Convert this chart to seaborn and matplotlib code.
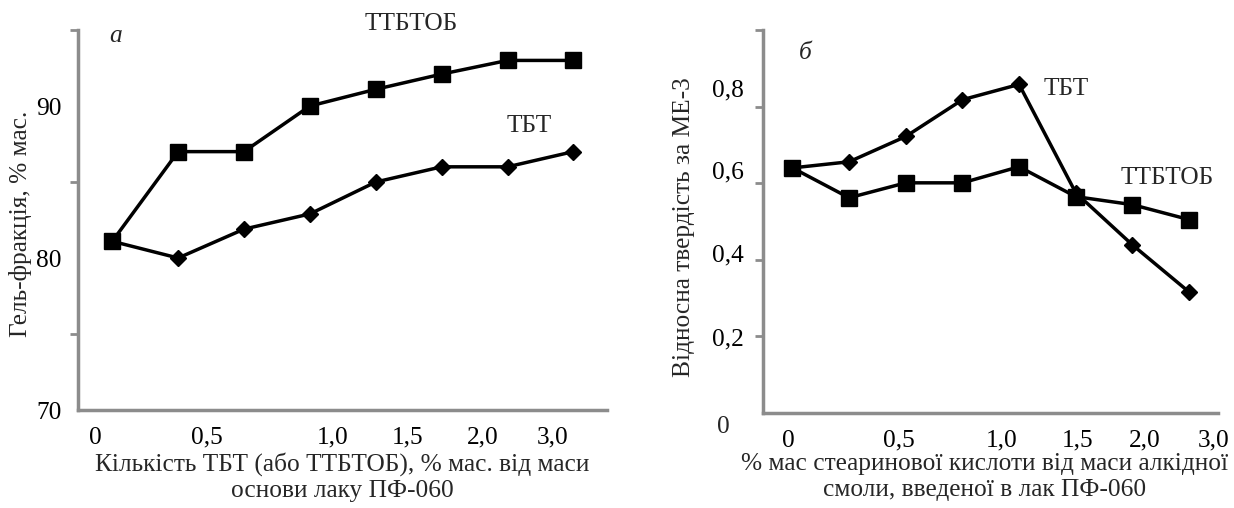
import numpy as np
import pandas as pd
import matplotlib
matplotlib.use("Agg")
import matplotlib.pyplot as plt
import seaborn as sns

# ---------------- data ----------------
# points are equally spaced along x (index 0..7), tick labels are placed as in the source figure
idx = [0, 1, 2, 3, 4, 5, 6, 7]

# panel a: gel fraction, % mass
gel_ttbtob = [81.1, 87.0, 87.0, 90.0, 91.1, 92.1, 93.0, 93.0]
gel_tbt = [81.1, 80.0, 81.9, 82.9, 85.0, 86.0, 86.0, 87.0]
a_xtick_pos = [-0.26, 1.44, 3.34, 4.48, 5.63, 6.69]
a_xtick_lab = ["0", "0,5", "1,0", "1,5", "2,0", "3,0"]

# panel b: relative hardness (ME-3)
hard_ttbtob = [0.64, 0.562, 0.601, 0.601, 0.643, 0.565, 0.544, 0.505]
hard_tbt = [0.64, 0.656, 0.722, 0.818, 0.858, 0.575, 0.439, 0.316]
b_xtick_pos = [-0.07, 1.87, 3.70, 5.04, 6.21, 7.43]
b_xtick_lab = ["0", "0,5", "1,0", "1,5", "2,0", "3,0"]
b_ytick_pos = [0.198, 0.418, 0.634, 0.85]
b_ytick_lab = ["0,2", "0,4", "0,6", "0,8"]

# ---------------- style ----------------
sns.set_theme(style="ticks")
plt.rcParams["font.family"] = ["Liberation Serif", "DejaVu Serif"]
plt.rcParams["font.size"] = 18

spine_col = "#8c8c8c"
fs = 18.3

fig = plt.figure(figsize=(12.34, 5.08), dpi=100)
ax1 = fig.add_axes([0.0632, 0.1929, 0.4287, 0.748])
ax2 = fig.add_axes([0.6183, 0.187, 0.3687, 0.7539])


def draw(ax, y_sq, y_di):
    sns.lineplot(x=idx, y=y_sq, ax=ax, color="black", linewidth=2.5, marker="s",
                 markersize=12, markeredgecolor="black", markeredgewidth=1)
    sns.lineplot(x=idx, y=y_di, ax=ax, color="black", linewidth=2.5, marker="D",
                 markersize=8, markeredgecolor="black", markeredgewidth=1)
    ax.set_xlim(-0.52, 7.51)
    sns.despine(ax=ax)
    for s in ["left", "bottom"]:
        ax.spines[s].set_color(spine_col)
        ax.spines[s].set_linewidth(2.5)
    ax.tick_params(axis="both", which="both", colors=spine_col, labelcolor="black",
                   labelsize=fs)
    ax.tick_params(axis="x", which="major", length=0, pad=12)
    ax.tick_params(axis="y", which="minor", length=6, width=2, direction="out")


# panel a
draw(ax1, gel_ttbtob, gel_tbt)
ax1.set_ylim(70, 95)
ax1.set_xticks(a_xtick_pos)
ax1.set_xticklabels(a_xtick_lab)
ax1.set_yticks([70, 80, 90])
ax1.set_yticks([75, 80, 85, 90, 95], minor=True)
ax1.tick_params(axis="y", which="major", length=0, pad=12)
ax1.set_ylabel("Гель-фракція, % мас.", fontsize=fs)
ax1.yaxis.set_label_coords(-0.086, 0.49)
ax1.set_xlabel("Кількість ТБТ (або ТТБТОБ), % мас. від маси\nоснови лаку ПФ-060",
               fontsize=fs, linespacing=1.2)
ax1.xaxis.set_label_coords(0.5, -0.112)
ax1.text(0.05, 94.6, "а", fontsize=fs, style="italic", ha="center", va="center")
ax1.text(4.54, 95.4, "ТТБТОБ", fontsize=fs, ha="center", va="center", clip_on=False)
ax1.text(6.33, 88.7, "ТБТ", fontsize=fs, ha="center", va="center")

# panel b
draw(ax2, hard_ttbtob, hard_tbt)
ax2.set_ylim(0, 1.0)
ax2.set_xticks(b_xtick_pos)
ax2.set_xticklabels(b_xtick_lab)
ax2.set_yticks(b_ytick_pos)
ax2.set_yticklabels(b_ytick_lab)
ax2.set_yticks([0.2, 0.4, 0.6, 0.8, 1.0], minor=True)
ax2.tick_params(axis="y", which="major", length=0, pad=14)
ax2.set_ylabel("Відносна твердість за МЕ-3", fontsize=fs)
ax2.yaxis.set_label_coords(-0.15, 0.486)
ax2.set_xlabel("% мас стеаринової кислоти від маси алкідної\nсмоли, введеної в лак ПФ-060",
               fontsize=fs, linespacing=1.2)
ax2.xaxis.set_label_coords(0.487, -0.105)
ax2.text(-1.22, -0.037, "0", fontsize=fs, ha="center", va="center", clip_on=False)
ax2.text(0.23, 0.941, "б", fontsize=fs, style="italic", ha="center", va="center")
ax2.text(4.83, 0.847, "ТБТ", fontsize=fs, ha="center", va="center")
ax2.text(6.61, 0.614, "ТТБТОБ", fontsize=fs, ha="center", va="center")

fig.savefig("out.png", dpi=100)
